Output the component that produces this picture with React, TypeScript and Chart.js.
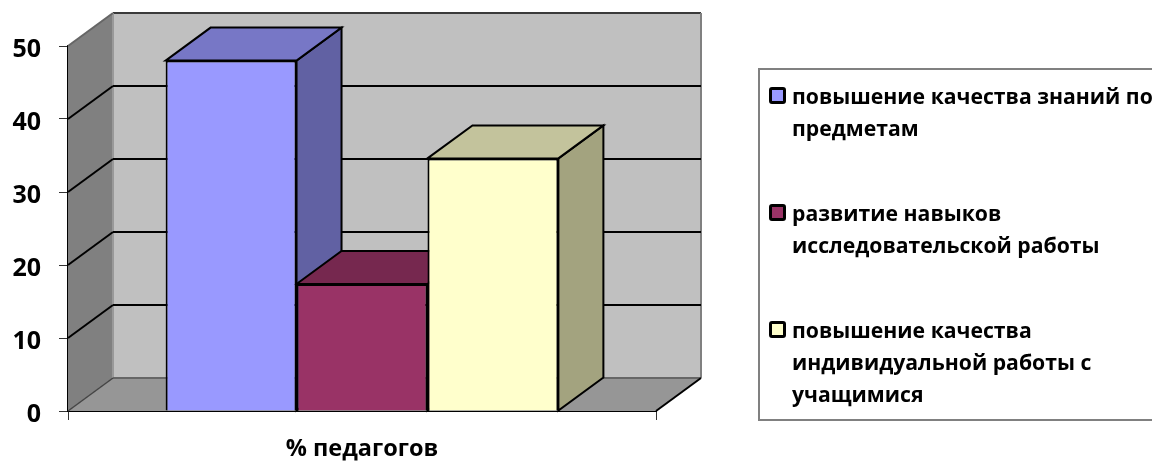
import React, { useEffect, useRef } from "react";
import { Chart, registerables } from "chart.js";

Chart.register(...registerables);

const categories = ["% педагогов"];
const seriesNames = [
  "повышение качества знаний по предметам",
  "развитие навыков исследовательской работы",
  "повышение качества индивидуальной работы с учащимися",
];
const legendLines = [
  ["повышение качества знаний по", "предметам"],
  ["развитие навыков", "исследовательской работы"],
  ["повышение качества", "индивидуальной работы с", "учащимися"],
];
const blueValues = [48];
const maroonValues = [17.4];
const yellowValues = [34.6];
const frontColors = ["#9999FF", "#993366", "#FFFFCC"];
const topColors = ["#7777C6", "#76284F", "#C3C39C"];
const sideColors = ["#6161A3", "#5F1F40", "#A3A37F"];
const FONT = "'Open Sans', sans-serif";
const DX = 45;
const DY = 33;

const poly = (ctx: CanvasRenderingContext2D, pts: number[][], fill: string | null, stroke: string | null, lw = 2) => {
  ctx.beginPath();
  pts.forEach((p, i) => (i ? ctx.lineTo(p[0], p[1]) : ctx.moveTo(p[0], p[1])));
  ctx.closePath();
  if (fill) {
    ctx.fillStyle = fill;
    ctx.fill();
  }
  if (stroke) {
    ctx.strokeStyle = stroke;
    ctx.lineWidth = lw;
    ctx.stroke();
  }
};
const seg = (ctx: CanvasRenderingContext2D, x1: number, y1: number, x2: number, y2: number, c: string, lw = 2) => {
  ctx.beginPath();
  ctx.moveTo(x1, y1);
  ctx.lineTo(x2, y2);
  ctx.strokeStyle = c;
  ctx.lineWidth = lw;
  ctx.stroke();
};

const box3d = {
  id: "box3d",
  beforeDatasetsDraw(chart: any) {
    const { ctx, chartArea: a, scales } = chart;
    const y = scales.y;
    const L = a.left, R = a.right, T = y.getPixelForValue(50), B = y.getPixelForValue(0);
    ctx.save();
    // back wall
    poly(ctx, [[L + DX, T - DY], [R + DX, T - DY], [R + DX, B - DY], [L + DX, B - DY]], "#C0C0C0", null);
    // left wall
    poly(ctx, [[L, T], [L + DX, T - DY], [L + DX, B - DY], [L, B]], "#808080", null);
    // floor
    poly(ctx, [[L, B], [L + DX, B - DY], [R + DX, B - DY], [R, B]], "#969696", null);
    seg(ctx, L + DX, T - DY, R + DX, T - DY, "#3a3a3a");
    seg(ctx, R + DX, T - DY, R + DX, B - DY, "#808080");
    seg(ctx, L + DX, T - DY, L + DX, B - DY, "#999999");
    seg(ctx, L + DX, B - DY, R + DX, B - DY, "#666666");
    seg(ctx, L, T, L + DX, T - DY, "#666666");
    seg(ctx, L, B, L + DX, B - DY, "#444444", 1.5);
    seg(ctx, R, B, R + DX, B - DY, "#000000");
    // gridlines on walls
    for (const v of y.ticks.map((t: any) => t.value)) {
      if (v === 0 || v === 50) continue;
      const py = y.getPixelForValue(v);
      seg(ctx, L, py, L + DX, py - DY, "#000000");
      seg(ctx, L + DX, py - DY, R + DX, py - DY, "#000000");
    }
    // bar depth faces, back-to-front from left to right
    chart.data.datasets.forEach((_: any, i: number) => {
      const bar = chart.getDatasetMeta(i).data[0];
      const x0 = bar.x - bar.width / 2, x1 = bar.x + bar.width / 2, t = bar.y, b = bar.base;
      poly(ctx, [[x1, t], [x1 + DX, t - DY], [x1 + DX, b - DY], [x1, b]], sideColors[i], "#000000");
      poly(ctx, [[x0, t], [x0 + DX, t - DY], [x1 + DX, t - DY], [x1, t]], topColors[i], "#000000");
    });
    ctx.restore();
  },
  afterDraw(chart: any) {
    // value-axis labels, placed from the scale's own ticks
    const { ctx, scales } = chart;
    const y = scales.y;
    ctx.save();
    ctx.font = `bold 25px ${FONT}`;
    ctx.fillStyle = "#000000";
    ctx.textAlign = "right";
    ctx.textBaseline = "middle";
    for (const t of y.ticks) {
      ctx.fillText(String(t.value), y.right - 27, y.getPixelForValue(t.value) + 3.5);
    }
    ctx.restore();
  },
};

export default function App() {
  const ref = useRef<HTMLCanvasElement>(null);
  useEffect(() => {
    document.body.style.margin = "0";
    const chart = new Chart(ref.current!, {
      type: "bar",
      data: {
        labels: categories,
        datasets: [blueValues, maroonValues, yellowValues].map((d, i) => ({
          label: seriesNames[i],
          data: d,
          backgroundColor: frontColors[i],
          borderColor: "#000000",
          borderWidth: 2,
          barPercentage: 1,
          categoryPercentage: 0.668,
        })),
      },
      options: {
        animation: false,
        responsive: false,
        layout: { padding: { left: 0, right: 496, top: 46, bottom: 0 } },
        plugins: { legend: { display: false }, tooltip: { enabled: false } },
        scales: {
          x: {
            afterFit: (s: any) => { s.height = 50; },
            grid: { drawOnChartArea: false, color: "#333333", tickLength: 9, lineWidth: 1 },
            border: { color: "#000000", width: 2 },
            ticks: { color: "#000000", padding: 15, font: { family: FONT, weight: "bold", size: 23.5 } },
          },
          y: {
            min: 0,
            max: 50,
            afterFit: (s: any) => { s.width = 68; },
            grid: { drawOnChartArea: false, color: "#333333", tickLength: 9, lineWidth: 1 },
            border: { color: "#000000", width: 2 },
            ticks: { stepSize: 10, display: false },
          },
        },
      } as any,
      plugins: [box3d],
    });
    return () => chart.destroy();
  }, []);

  const tops = [80, 197, 314];
  return (
    <div style={{ position: "relative", width: 1152, height: 461, overflow: "hidden", background: "#fff" }}>
      <canvas ref={ref} width={1152} height={461} style={{ display: "block" }} />
      <div style={{ position: "absolute", left: 758, top: 68, width: 420, height: 353, boxSizing: "border-box", border: "2px solid #808080" }} />
      {legendLines.map((lines, i) => (
        <div key={i} style={{ position: "absolute", left: 769, top: tops[i], fontFamily: FONT, fontWeight: 700, fontSize: 21.2, lineHeight: "32px", color: "#000", whiteSpace: "nowrap" }}>
          <span style={{ position: "absolute", left: 0, top: 7, width: 17, height: 17, boxSizing: "border-box", border: "3px solid #000", borderRadius: 3, background: frontColors[i] }} />
          <div style={{ marginLeft: 23 }}>
            {lines.map((l, j) => (
              <div key={j}>{l}</div>
            ))}
          </div>
        </div>
      ))}
    </div>
  );
}
